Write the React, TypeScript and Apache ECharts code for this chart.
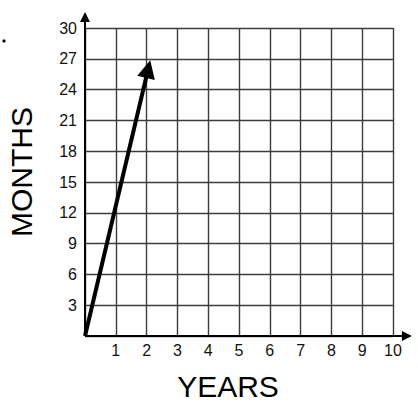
import React, { useEffect, useRef } from "react";
import * as echarts from "echarts";

const yearTicks = [0, 1, 2, 3, 4, 5, 6, 7, 8, 9, 10];
const monthTicks = [0, 3, 6, 9, 12, 15, 18, 21, 24, 27, 30];
const lineYears = [0, 2.05];
const lineMonths = [0, 26];
const xAxisTitle = "YEARS";
const yAxisTitle = "MONTHS";

export default function App() {
  const ref = useRef<HTMLDivElement>(null);
  useEffect(() => {
    if (!ref.current) return;
    const chart = echarts.init(ref.current, null, { renderer: "svg" });
    const font = "Liberation Sans";
    const xMax = yearTicks[yearTicks.length - 1];
    const yMax = monthTicks[monthTicks.length - 1];
    chart.setOption({
      animation: false,
      backgroundColor: "#ffffff",
      grid: { left: 85, top: 28, width: 308, height: 308 },
      xAxis: {
        type: "value",
        min: 0,
        max: xMax,
        interval: 1,
        axisLine: { show: false },
        axisTick: { show: false },
        splitLine: { show: true, lineStyle: { color: "#3c3c3c", width: 1.4 } },
        axisLabel: {
          margin: 6,
          fontFamily: font,
          fontSize: 16,
          color: "#111",
          formatter: (v: number) => (v === 0 ? "" : String(v)),
        },
      },
      yAxis: {
        type: "value",
        min: 0,
        max: yMax,
        interval: 3,
        axisLine: { show: false },
        axisTick: { show: false },
        splitLine: { show: true, lineStyle: { color: "#3c3c3c", width: 1.4 } },
        axisLabel: {
          margin: 8,
          fontFamily: font,
          fontSize: 16,
          color: "#111",
          formatter: (v: number) => (v === 0 ? "" : String(v)),
        },
      },
      series: [
        {
          type: "lines",
          coordinateSystem: "cartesian2d",
          clip: false,
          symbol: ["none", "triangle"],
          symbolSize: [8, 10],
          lineStyle: { color: "#000", width: 2, opacity: 1 },
          data: [
            { coords: [[0, 0], [0, yMax * 1.036]] },
            { coords: [[0, 0], [xMax * 1.045, 0]] },
          ],
          z: 3,
        },
        {
          type: "lines",
          coordinateSystem: "cartesian2d",
          clip: false,
          symbol: ["none", "triangle"],
          symbolSize: [15, 18],
          lineStyle: { color: "#000", width: 4, opacity: 1 },
          data: [
            {
              coords: lineYears.map((x, i) => [x, lineMonths[i]]),
            },
          ],
          z: 4,
        },
      ],
      graphic: [
        {
          type: "circle",
          shape: { cx: 4, cy: 41, r: 1.6 },
          style: { fill: "#000" },
        },
        {
          type: "text",
          x: 21,
          y: 172,
          rotation: Math.PI / 2,
          style: {
            text: yAxisTitle,
            font: `30px "${font}"`,
            fill: "#000",
            align: "center",
            verticalAlign: "middle",
          },
        },
        {
          type: "text",
          x: 228,
          y: 386,
          style: {
            text: xAxisTitle,
            font: `30px "${font}"`,
            fill: "#000",
            align: "center",
            verticalAlign: "middle",
          },
        },
      ],
    });
    return () => chart.dispose();
  }, []);
  return <div ref={ref} style={{ width: 418, height: 412, position: "absolute", left: 0, top: 0 }} />;
}
